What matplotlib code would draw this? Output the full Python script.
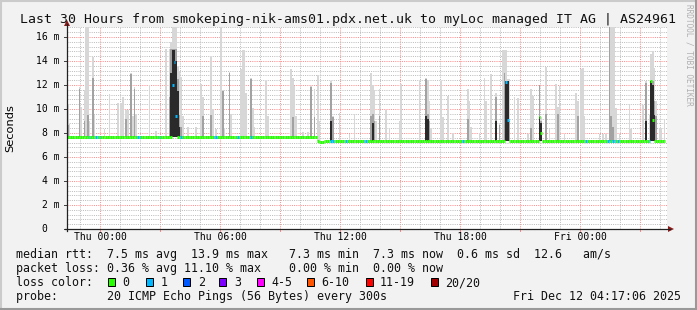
import numpy as np
import matplotlib
matplotlib.use("Agg")
import matplotlib.pyplot as plt
from matplotlib.patches import Rectangle, Polygon
from matplotlib.lines import Line2D

# ---------------- data (hours relative to Thu 00:00, values in ms) ----------------
STEP_H = 5 / 60.0
START_H = -1.6667
END_H = 28.25

base_start_hours = [-1.6667, 10.80, 10.95, 11.15]
base_levels_ms = [7.65, 7.33, 7.26, 7.35]

loss_hours = [-0.57, -0.17, -0.07, 1.88, 1.98, 2.98, 4.03, 5.68, 5.78, 6.88, 7.53,
              11.53, 11.63, 12.33, 13.23, 13.33, 18.13, 24.33, 25.38, 25.48, 25.63,
              25.73, 25.88, 27.43]
loss_counts = [1] * 24

spike_med_hours = [3.65, 3.73, 3.81, 20.32, 20.40, 21.93, 22.03, 27.53, 27.62]
spike_med_values = [12.0, 13.9, 9.4, 12.25, 9.1, 9.3, 8.0, 12.3, 9.1]
spike_med_loss = [1, 1, 1, 1, 1, 0, 0, 0, 0]

smoke_hours = [-1.64, -1.56, -1.04, -0.94, -0.82, -0.68, -0.60, -0.52, -0.38, -0.29,
               0.18, 0.48, 0.88, 1.03, 1.13, 1.31, 1.39, 1.57, 1.65, 1.73, 1.82,
               2.46, 2.78, 3.33, 3.42, 3.50, 3.59, 3.67, 3.76, 3.84, 3.93, 4.01,
               4.13, 4.38, 4.78, 5.06, 5.15, 5.53, 5.63, 5.78, 6.03, 6.12, 6.21,
               6.48, 6.57, 7.06, 7.15, 7.23, 7.33, 7.53, 7.62, 7.71, 8.28, 8.38,
               9.56, 9.64, 9.73, 9.83, 10.13, 10.38, 10.58, 10.67, 10.88, 10.98,
               11.53, 11.62, 11.98, 12.48, 12.73, 13.53, 13.63, 13.73, 13.83, 13.98,
               14.33, 14.43, 14.93, 15.02, 15.98, 16.28, 16.38, 16.48, 16.58, 17.03,
               17.13, 17.38, 17.63, 18.38, 18.48, 18.58, 18.98, 19.23, 19.33, 19.53,
               19.83, 19.93, 20.15, 20.23, 20.32, 20.40, 20.48, 20.73, 20.88, 21.38,
               21.53, 21.63, 21.93, 22.03, 22.31, 22.43, 22.78, 22.88, 22.97, 23.23,
               23.78, 23.88, 24.06, 24.15, 24.23, 24.93, 25.13, 25.33, 25.46, 25.54,
               25.63, 25.72, 25.80, 25.98, 26.43, 26.53, 27.13, 27.33, 27.43, 27.53,
               27.62, 27.71, 27.79, 27.93, 28.03, 28.18]
smoke_top = [10.3, 8.75, 11.8, 10.2, 11.6, 16.8, 16.8, 9.0, 14.3, 9.5,
             8.3, 11.25, 10.5, 10.5, 11.0, 9.9, 9.9, 13.0, 9.4, 11.8, 9.6,
             12.0, 8.2, 15.0, 15.0, 15.6, 16.8, 16.8, 16.8, 13.5, 13.2, 12.7,
             9.4, 8.5, 8.5, 12.1, 11.0, 14.3, 10.0, 8.3, 16.8, 11.6, 8.4,
             13.1, 9.6, 13.3, 14.9, 14.9, 11.3, 12.6, 10.1, 8.5, 12.3, 9.4,
             13.3, 12.6, 11.9, 9.4, 8.1, 8.1, 11.9, 11.7, 12.8, 9.0,
             12.3, 9.4, 9.7, 7.9, 9.6, 13.0, 12.0, 11.6, 9.0, 11.7,
             9.9, 8.4, 9.0, 12.1, 12.3, 12.6, 12.4, 10.7, 8.4, 12.3,
             9.3, 11.1, 8.0, 11.7, 10.7, 8.5, 8.0, 12.6, 10.7, 12.9,
             11.3, 8.8, 14.9, 14.9, 14.9, 12.5, 12.5, 11.0, 10.9, 7.9,
             11.7, 11.1, 12.0, 9.3, 13.5, 8.3, 12.1, 10.2, 11.9, 7.9,
             11.3, 10.7, 13.3, 13.4, 9.4, 7.9, 7.9, 7.9, 16.8, 16.8,
             16.8, 16.8, 10.1, 7.9, 10.4, 8.3, 10.3, 12.3, 9.5, 14.6,
             14.8, 13.4, 10.7, 8.4, 8.4, 9.2]
smoke_mid = [8.7, 0, 11.7, 0, 9.0, 0, 9.5, 0, 12.6, 0,
             0, 0, 0, 0, 0, 9.2, 0, 12.9, 0, 11.7, 0,
             0, 0, 0, 11.0, 15.0, 15.0, 15.0, 15.0, 12.5, 9.5, 8.5,
             0, 0, 0, 0, 9.4, 9.5, 0, 0, 0, 11.5, 0,
             13.0, 0, 0, 0, 0, 0, 12.5, 0, 0, 0, 0,
             0, 9.3, 0, 0, 0, 0, 11.8, 9.3, 0, 0,
             12.2, 9.3, 0, 0, 0, 9.4, 9.6, 9.0, 0, 9.4,
             0, 0, 0, 0, 0, 12.5, 9.6, 9.0, 0, 0,
             0, 0, 0, 9.2, 0, 0, 0, 0, 0, 0,
             11.0, 8.7, 0, 13.0, 12.3, 12.3, 9.0, 0, 0, 0,
             8.4, 0, 12.0, 9.0, 9.6, 0, 0, 9.6, 0, 0,
             0, 9.4, 0, 0, 0, 0, 0, 0, 16.8, 9.4,
             8.5, 0, 0, 0, 0, 0, 0, 12.2, 0, 12.3,
             12.3, 10.7, 9.4, 0, 0, 0]
smoke_dark = [0, 0, 0, 0, 0, 0, 0, 0, 0, 0,
              0, 0, 0, 0, 0, 0, 0, 0, 0, 0, 0,
              0, 0, 0, 0, 13.0, 14.9, 14.9, 14.0, 11.5, 8.5, 0,
              0, 0, 0, 0, 0, 0, 0, 0, 0, 0, 0,
              0, 0, 0, 0, 0, 0, 0, 0, 0, 0, 0,
              0, 0, 0, 0, 0, 0, 0, 0, 0, 0,
              9.0, 0, 0, 0, 0, 0, 8.8, 0, 0, 0,
              0, 0, 0, 0, 0, 9.4, 9.2, 0, 0, 0,
              0, 0, 0, 0, 0, 0, 0, 0, 0, 0,
              9.0, 0, 0, 0, 12.3, 12.3, 0, 0, 0, 0,
              0, 0, 9.3, 8.8, 0, 0, 0, 0, 0, 0,
              0, 0, 0, 0, 0, 0, 0, 0, 0, 0,
              0, 0, 0, 0, 0, 0, 0, 9.0, 0, 12.3,
              12.0, 9.5, 0, 0, 0, 0]

loss_labels = ["0", "1", "2", "3", "4-5", "6-10", "11-19", "20/20"]
loss_colors = ["#26ff00", "#00b8ff", "#0059ff", "#7e00ff", "#ff00ff", "#ff5500", "#ff0000", "#a10000"]

x_tick_hours = [0, 6, 12, 18, 24]
x_tick_labels = ["Thu 00:00", "Thu 06:00", "Thu 12:00", "Thu 18:00", "Fri 00:00"]
y_tick_values = [0, 2, 4, 6, 8, 10, 12, 14, 16]

title = "Last 30 Hours from smokeping-nik-ams01.pdx.net.uk to myLoc managed IT AG | AS24961"
stat_lines = [
    "median rtt:  7.5 ms avg  13.9 ms max   7.3 ms min  7.3 ms now  0.6 ms sd  12.6   am/s",
    "packet loss: 0.36 % avg 11.10 % max    0.00 % min  0.00 % now",
]
probe_line = "probe:       20 ICMP Echo Pings (56 Bytes) every 300s"
date_text = "Fri Dec 12 04:17:06 2025"

# ---------------- build per-step series ----------------
n_steps = int(round((END_H - START_H) / STEP_H))
step_h = START_H + (np.arange(n_steps) + 0.5) * STEP_H
seg = np.searchsorted(np.array(base_start_hours), step_h, side="right") - 1
base = np.array(base_levels_ms)[seg]
median = base.copy()
loss = np.zeros(n_steps, dtype=int)


def idx_of(h):
    return int(np.clip(np.round((h - START_H) / STEP_H - 0.5), 0, n_steps - 1))


for h, c in zip(loss_hours, loss_counts):
    loss[idx_of(h)] = c
for h, v, c in zip(spike_med_hours, spike_med_values, spike_med_loss):
    i = idx_of(h)
    median[i] = v
    loss[i] = c

top = np.zeros(n_steps)
mid = np.zeros(n_steps)
dark = np.zeros(n_steps)
for h, t, m, d in zip(smoke_hours, smoke_top, smoke_mid, smoke_dark):
    i = idx_of(h)
    top[i] = max(top[i], t)
    mid[i] = max(mid[i], m)
    dark[i] = max(dark[i], d)

# ---------------- figure ----------------
W, H = 697, 310
BG = "#f2f2f2"
fig = plt.figure(figsize=(W / 100, H / 100), dpi=100, facecolor=BG)


def fx(x):
    return x / W


def fy(y):
    return 1 - y / H


L, R, T, B = 67, 667, 27, 229
ax = fig.add_axes([fx(L), fy(B), (R - L) / W, (B - T) / H])
ax.set_facecolor("white")
ax.set_xlim(START_H, START_H + 30)
ax.set_ylim(0, (B - T) / 12.0)
for s in ax.spines.values():
    s.set_visible(False)

# grid
xmaj = np.arange(0, 28.1, 3)
xmin = [h for h in np.arange(-1, 28.1, 1) if h % 3 != 0]
ymaj = np.arange(0, 16.1, 2)
ymin = [v for v in np.round(np.arange(0.4, 16.81, 0.4), 2) if abs(v / 2 - round(v / 2)) > 1e-6]
ax.set_xticks(xmaj)
ax.set_xticks(xmin, minor=True)
ax.set_yticks(ymaj)
ax.set_yticks(ymin, minor=True)
ax.tick_params(which="both", labelbottom=False, labelleft=False, length=0)
ax.grid(which="minor", color="#bdbdbd", linestyle=(0, (1, 1.2)), linewidth=0.72)
ax.grid(which="major", color="#ff8a8a", linestyle=(0, (1, 1.2)), linewidth=0.72)
ax.set_axisbelow(True)

# smoke
mask = top > 0
ax.bar(step_h[mask], top[mask] - base[mask], bottom=base[mask], width=STEP_H,
       color="#d7d7d7", linewidth=0, zorder=2)
mask = mid > 0
ax.bar(step_h[mask], mid[mask] - base[mask], bottom=base[mask], width=STEP_H,
       color="#a2a2a2", linewidth=0, zorder=3)
mask = dark > 0
ax.bar(step_h[mask], dark[mask] - base[mask], bottom=base[mask], width=STEP_H,
       color="#2a2a2a", linewidth=0, zorder=4)

# median coloured by loss
bucket_edges = [0, 1, 2, 3, 5, 10, 19, 20]
bucket = np.searchsorted(np.array(bucket_edges), loss, side="left")
for b, col in enumerate(loss_colors):
    m = bucket == b
    if m.any():
        ax.hlines(median[m], step_h[m] - STEP_H / 2, step_h[m] + STEP_H / 2,
                  colors=col, linewidth=2.16, zorder=6, capstyle="butt")

# y labels
ytr = ax.get_yaxis_transform()
for v in y_tick_values:
    if v == 0:
        ax.text(-20 / (R - L), v, "0", transform=ytr, ha="right", va="center",
                fontsize=7, family="DejaVu Sans Mono")
    else:
        ax.text(-7 / (R - L), v, f"{v} m", transform=ytr, ha="right", va="center",
                fontsize=7, family="DejaVu Sans Mono")
    ax.plot([-3 / (R - L), 0], [v, v], transform=ytr, color="#444444", lw=0.72,
            clip_on=False, zorder=7)
# x labels
xtr = ax.get_xaxis_transform()
for h, lab in zip(x_tick_hours, x_tick_labels):
    ax.text(h, -11.5 / (B - T), lab, transform=xtr, ha="center", va="baseline",
            fontsize=7, family="DejaVu Sans Mono")
for h in xmaj:
    ax.plot([h, h], [0, -2 / (B - T)], transform=xtr, color="#ff8a8a", lw=0.72,
            clip_on=False)

# axes lines and arrows
fig.add_artist(Line2D([fx(L - 2), fx(R + 3)], [fy(B), fy(B)], color="#222222", lw=0.9))
fig.add_artist(Line2D([fx(L), fx(L)], [fy(B + 2), fy(T - 3)], color="#222222", lw=0.9))
arrow_c = "#8e1a1a"
fig.add_artist(Polygon([[fx(L - 3), fy(T - 1)], [fx(L + 3), fy(T - 1)], [fx(L), fy(T - 7)]],
                       closed=True, color=arrow_c, lw=0))
fig.add_artist(Polygon([[fx(R + 1), fy(B - 3)], [fx(R + 1), fy(B + 3)], [fx(R + 7), fy(B)]],
                       closed=True, color=arrow_c, lw=0))

# texts
fig.text(fx(348.5), fy(23.5), title, ha="center", va="baseline", fontsize=9.5,
         family="DejaVu Sans Mono", color="#111111")
fig.text(fx(10), fy(128), "Seconds", rotation=90, ha="center", va="center",
         fontsize=8.2, family="DejaVu Sans")
fig.text(fx(688.5), fy(4), "RRDTOOL / TOBI OETIKER", rotation=270, ha="center", va="top",
         fontsize=5.6, family="DejaVu Sans Mono", color="#b0b0b0")

mono = dict(fontsize=8.4, family="DejaVu Sans Mono", va="baseline", color="#111111")
fig.text(fx(16), fy(258), stat_lines[0], **mono)
fig.text(fx(16), fy(272), stat_lines[1], **mono)
fig.text(fx(16), fy(286), "loss color:", **mono)
fig.text(fx(16), fy(300), probe_line, **mono)
fig.text(fx(681), fy(300), date_text, ha="right", **mono)

box_x = [108.3, 145.7, 182.7, 219.3, 256.7, 306.7, 365.7, 430.7]
lab_x = [122.5, 161.0, 198.0, 234.3, 271.0, 321.0, 379.3, 445.0]
for bx, lx, lab, col in zip(box_x, lab_x, loss_labels, loss_colors):
    fig.add_artist(Rectangle((fx(bx), fy(285.5)), 7 / W, 7.5 / H, facecolor=col,
                             edgecolor="black", lw=0.72))
    fig.text(fx(lx), fy(286), lab, **mono)

# frame
fig.add_artist(Line2D([0, 1], [fy(1), fy(1)], color="#cbcbcb", lw=1.5))
fig.add_artist(Line2D([fx(1), fx(1)], [0, 1], color="#cbcbcb", lw=1.5))
fig.add_artist(Line2D([0, 1], [fy(H - 1), fy(H - 1)], color="#999999", lw=1.5))
fig.add_artist(Line2D([fx(W - 1), fx(W - 1)], [0, 1], color="#999999", lw=1.5))

fig.savefig("out.png", dpi=100, facecolor=BG)
